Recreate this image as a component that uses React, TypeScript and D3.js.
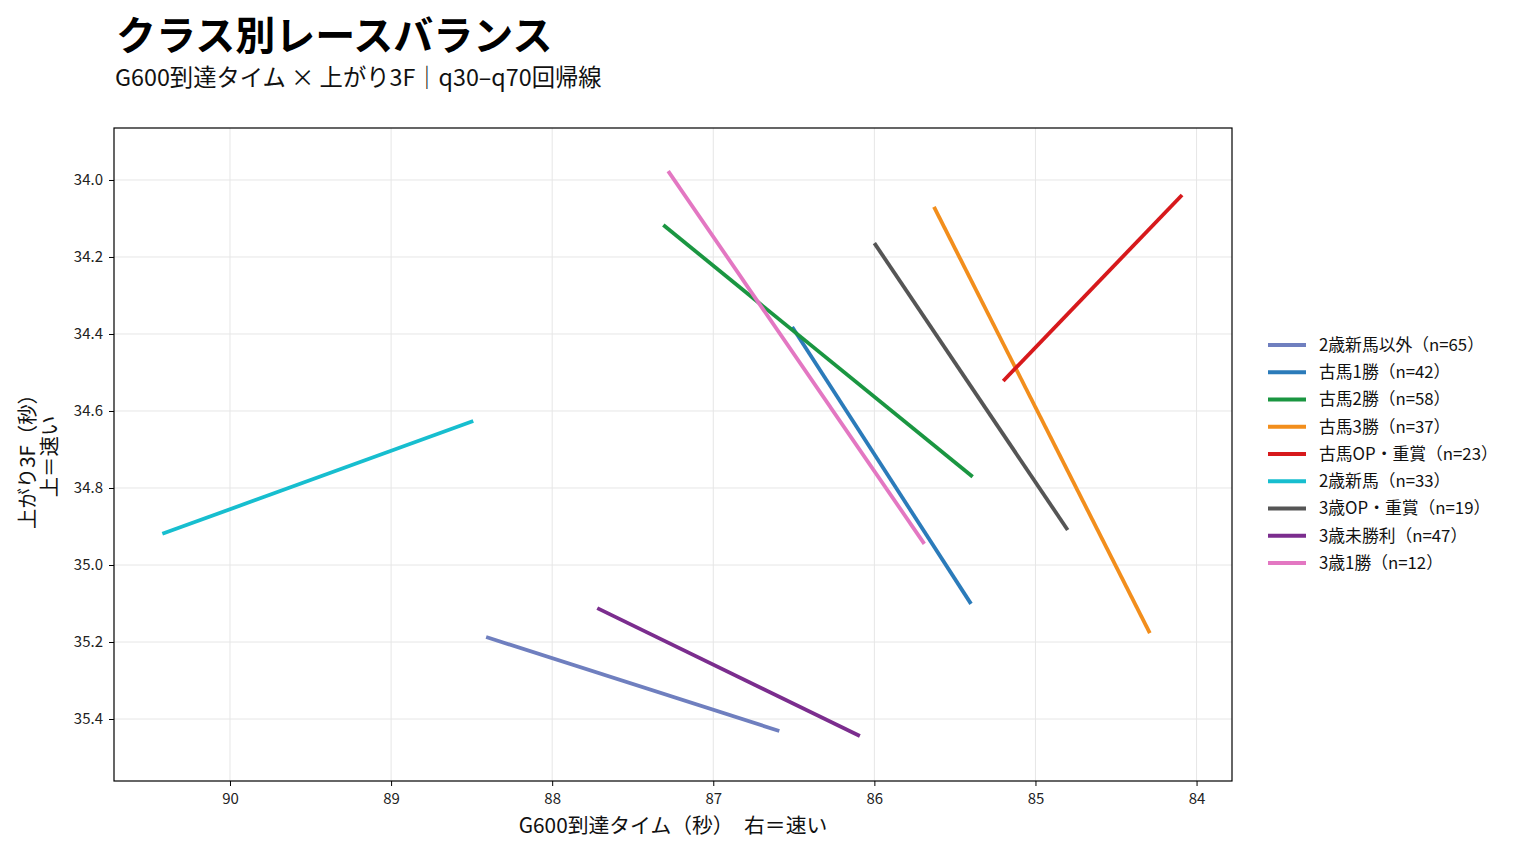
import { useEffect, useRef } from 'react';
import * as d3 from 'd3';

const W = 1515;
const H = 855;

// class names, sample sizes, colours (legend order = draw order)
const classes = ['2歳新馬以外', '古馬1勝', '古馬2勝', '古馬3勝', '古馬OP・重賞', '2歳新馬', '3歳OP・重賞', '3歳未勝利', '3歳1勝'];
const counts = [65, 42, 58, 37, 23, 33, 19, 47, 12];
const colors = ['#6f7fbf', '#2b7bba', '#1a9641', '#f28e1c', '#d7191c', '#17becf', '#555555', '#7b2d8e', '#e377c2'];

// regression segment endpoints: G600 (x) and 上がり3F (y)
const xStart = [88.41, 86.51, 87.31, 85.63, 85.20, 90.42, 86.00, 87.72, 87.28];
const xEnd = [86.59, 85.40, 85.39, 84.29, 84.09, 88.49, 84.80, 86.09, 85.69];
const yStart = [35.187, 34.382, 34.117, 34.070, 34.522, 34.919, 34.164, 35.112, 33.977];
const yEnd = [35.431, 35.101, 34.771, 35.177, 34.039, 34.626, 34.909, 35.444, 34.945];

const xTicks = [90, 89, 88, 87, 86, 85, 84];
const yTicks = [34.0, 34.2, 34.4, 34.6, 34.8, 35.0, 35.2, 35.4];

const FONT = '"Noto Sans CJK JP", "Noto Sans", sans-serif';

export default function App() {
  const svgRef = useRef<SVGSVGElement>(null);

  useEffect(() => {
    if (!svgRef.current) return;
    const svg = d3.select(svgRef.current);
    svg.selectAll('*').remove();

    const left = 114, right = 1232, top = 128, bottom = 781;

    const x = d3.scaleLinear().domain([90.72, 83.78]).range([left, right]);
    const y = d3.scaleLinear().domain([33.865, 35.561]).range([top, bottom]);

    svg.append('rect').attr('width', W).attr('height', H).attr('fill', '#fff');

    // grid
    const grid = svg.append('g');
    xTicks.forEach(t => {
      grid.append('line')
        .attr('x1', x(t)).attr('x2', x(t))
        .attr('y1', top).attr('y2', bottom)
        .attr('stroke', '#e6e6e6').attr('stroke-width', 1);
    });
    yTicks.forEach(t => {
      grid.append('line')
        .attr('x1', left).attr('x2', right)
        .attr('y1', y(t)).attr('y2', y(t))
        .attr('stroke', '#e6e6e6').attr('stroke-width', 1);
    });

    // regression lines
    const plot = svg.append('g');
    classes.forEach((c, i) => {
      plot.append('line')
        .attr('x1', x(xStart[i])).attr('y1', y(yStart[i]))
        .attr('x2', x(xEnd[i])).attr('y2', y(yEnd[i]))
        .attr('stroke', colors[i])
        .attr('stroke-width', 3.8);
    });

    // frame
    svg.append('rect')
      .attr('x', left).attr('y', top)
      .attr('width', right - left).attr('height', bottom - top)
      .attr('fill', 'none').attr('stroke', '#000').attr('stroke-width', 1.2);

    // axes
    const xAxis = svg.append('g')
      .attr('transform', `translate(0,${bottom})`)
      .call(d3.axisBottom(x).tickValues(xTicks).tickFormat(d3.format('d')).tickSize(5).tickPadding(7));
    const yAxis = svg.append('g')
      .attr('transform', `translate(${left},0)`)
      .call(d3.axisLeft(y).tickValues(yTicks).tickFormat(d3.format('.1f')).tickSize(5).tickPadding(6));
    [xAxis, yAxis].forEach(a => {
      a.select('.domain').remove();
      a.selectAll('text').attr('font-family', FONT).attr('font-size', 15).attr('fill', '#222');
      a.selectAll('line').attr('stroke', '#000');
    });

    // titles
    svg.append('text')
      .attr('x', 116).attr('y', 50)
      .attr('font-family', FONT).attr('font-size', 40).attr('font-weight', 700)
      .attr('fill', '#000')
      .text('クラス別レースバランス');
    svg.append('text')
      .attr('x', 115).attr('y', 86)
      .attr('font-family', FONT).attr('font-size', 23.3)
      .attr('fill', '#111')
      .text('G600到達タイム × 上がり3F｜q30–q70回帰線');

    // axis labels
    svg.append('text')
      .attr('x', (left + right) / 2).attr('y', 833)
      .attr('text-anchor', 'middle')
      .attr('font-family', FONT).attr('font-size', 20.8).attr('fill', '#111')
      .text('G600到達タイム（秒）　右＝速い');

    const yl = svg.append('text')
      .attr('transform', `translate(35,${(top + bottom) / 2 + 2}) rotate(-90)`)
      .attr('text-anchor', 'middle')
      .attr('font-family', FONT).attr('font-size', 20.4).attr('fill', '#111');
    yl.append('tspan').attr('x', 0).attr('dy', 0).text('上がり3F（秒）');
    yl.append('tspan').attr('x', 0).attr('dy', 22).text('上＝速い');

    // legend
    const lg = svg.append('g').attr('transform', 'translate(1268,345)');
    classes.forEach((c, i) => {
      const row = lg.append('g').attr('transform', `translate(0,${i * 27.25})`);
      row.append('line')
        .attr('x1', 0).attr('x2', 38)
        .attr('y1', 0).attr('y2', 0)
        .attr('stroke', colors[i]).attr('stroke-width', 3.8);
      row.append('text')
        .attr('x', 51).attr('y', 0).attr('dy', '0.35em')
        .attr('font-family', FONT).attr('font-size', 16.8).attr('fill', '#111')
        .text(`${c}（n=${counts[i]}）`);
    });
  }, []);

  return (
    <svg
      ref={svgRef}
      width={W}
      height={H}
      style={{ position: 'absolute', left: 0, top: 0 }}
    />
  );
}
